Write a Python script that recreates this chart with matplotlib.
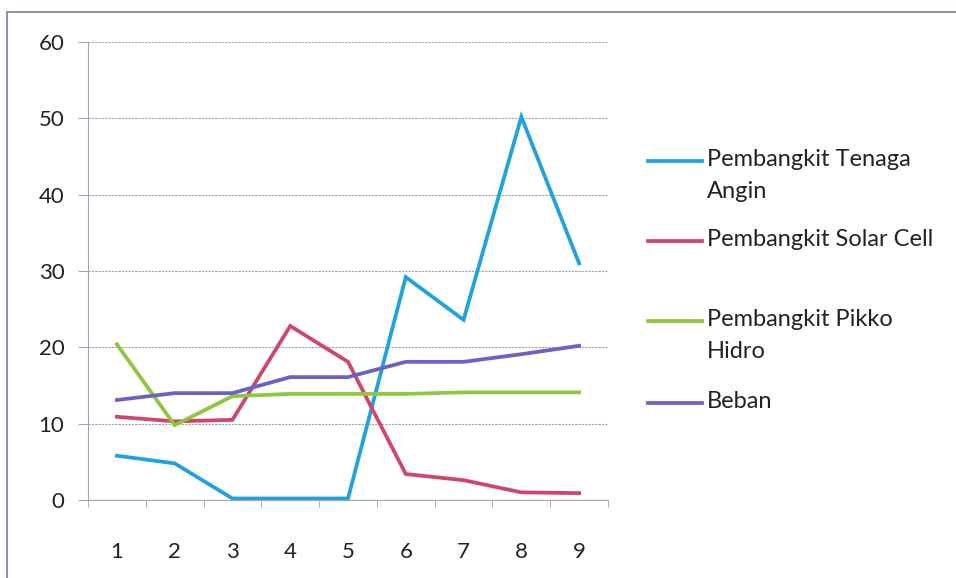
import matplotlib.pyplot as plt
from matplotlib.lines import Line2D
from matplotlib.patches import Rectangle

plt.rcParams['font.family'] = ['Lato', 'DejaVu Sans']

# data
jam = [1, 2, 3, 4, 5, 6, 7, 8, 9]
angin = [5.8, 4.8, 0.2, 0.2, 0.2, 29.2, 23.6, 50.2, 31.0]
solar = [10.9, 10.3, 10.5, 22.8, 18.1, 3.4, 2.6, 1.0, 0.9]
pikko = [20.4, 9.8, 13.6, 13.9, 13.9, 13.9, 14.1, 14.1, 14.1]
beban = [13.1, 14.0, 14.0, 16.1, 16.1, 18.1, 18.1, 19.1, 20.2]

labels = ["Pembangkit Tenaga\nAngin", "Pembangkit Solar Cell",
          "Pembangkit Pikko\nHidro", "Beban"]
colors = ["#1fa3de", "#d1456b", "#8fc640", "#6b62c6"]
series = [angin, solar, pikko, beban]

fig = plt.figure(figsize=(9.56, 5.78), dpi=100)
ax = fig.add_axes([88/956, 78/578, 520/956, 458/578])

for vals, c in zip(series, colors):
    ax.plot(jam, vals, color=c, lw=2.7, solid_joinstyle='miter')

ax.set_xlim(0.5, 9.5)
ax.set_ylim(0, 60)
ax.set_yticks(range(0, 61, 10))
ax.set_xticks(jam)
ax.set_xticks([x + 0.5 for x in range(0, 10)], minor=True)
ax.grid(axis='y', color='#9aa6b8', lw=0.8, ls=(0, (2, 1)))
ax.set_axisbelow(True)

for s in ['top', 'right']:
    ax.spines[s].set_visible(False)
for s in ['left', 'bottom']:
    ax.spines[s].set_color('#9aa6b8')
    ax.spines[s].set_linewidth(0.8)
ax.tick_params(axis='x', which='major', length=0, pad=30, labelsize=16, colors='#222222')
ax.tick_params(axis='x', which='minor', length=5, color='#9aa6b8')
ax.tick_params(axis='y', length=7, color='#9aa6b8', pad=10, labelsize=16, labelcolor='#222222')

# legend drawn by hand so the line sits on the first text line
leg_y = [161, 241, 321, 403]
for lab, c, y in zip(labels, colors, leg_y):
    fy = 1 - y / 578
    fig.add_artist(Line2D([648/956, 702/956], [fy, fy], color=c, lw=2.7,
                          transform=fig.transFigure))
    fig.text(707/956, fy + 12/578, lab, fontsize=17, color='#222222',
             va='top', ha='left', linespacing=1.65)

# outer frame
fig.add_artist(Rectangle((7/956, -0.01), 1.0, 1 - 12/578 + 0.01,
                         transform=fig.transFigure, fill=False,
                         ec='#8d97a8', lw=1.5))

fig.savefig('out.png', dpi=100)
